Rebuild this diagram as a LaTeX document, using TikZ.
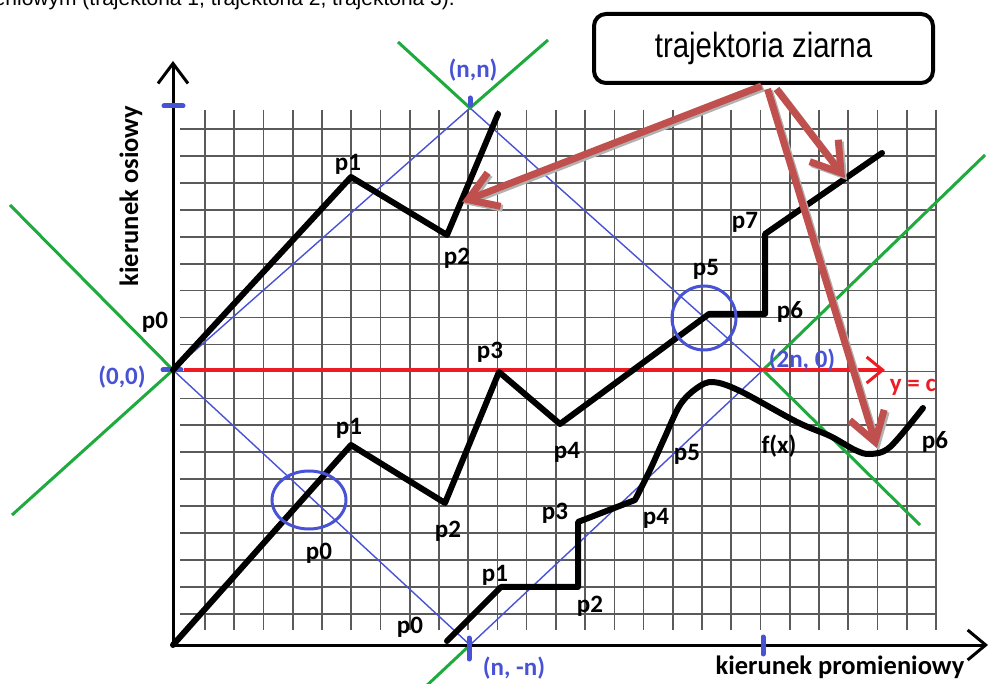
\documentclass[tikz,border=0pt]{standalone}
\usepackage{fontspec}
\usepackage{graphicx}
\setmainfont{Liberation Sans}
\newfontfamily\calib{Carlito}
\usetikzlibrary{arrows.meta,calc}
\definecolor{gridc}{RGB}{90,90,90}
\definecolor{lblue}{RGB}{72,82,212}
\definecolor{ggreen}{RGB}{30,170,60}
\definecolor{rred}{RGB}{237,28,36}
\definecolor{abrown}{RGB}{192,80,77}
\begin{document}
\begin{tikzpicture}[x=1pt,y=-1pt,
  gridline/.style={gridc, line width=1.7pt},
  traj/.style={line width=6pt, line join=round, line cap=round},
  plbl/.style={font=\calib\bfseries\fontsize{25}{25}\selectfont, inner sep=0pt},
  axlbl/.style={font=\calib\bfseries\fontsize{26.5}{26.5}\selectfont, inner sep=0pt},
  blbl/.style={font=\calib\bfseries\fontsize{25}{25}\selectfont, inner sep=0pt, text=lblue},
  diag/.style={lblue, line width=1.4pt},
  gline/.style={ggreen, line width=3pt},
  axisline/.style={line width=3pt, {Straight Barb[length=20pt,width=30pt]}-{Straight Barb[length=18pt,width=30pt]}},
  redline/.style={rred, line width=3pt, -{Straight Barb[length=16pt,width=26pt]}},
  ptr/.style={abrown, line width=7pt, -{Straight Barb[length=28pt,width=36pt]}},
  ptrshadow/.style={black!30, line width=7pt, -{Straight Barb[length=28pt,width=36pt]}, transform canvas={shift={(2pt,-2pt)}}},
  tick/.style={lblue, line width=5pt, line cap=round},
  ring/.style={lblue, line width=3pt},
  box/.style={draw, line width=4pt, rounded corners=12pt, minimum width=339pt, minimum height=69pt, fill=white, font=\fontsize{35}{35}\selectfont, inner sep=0pt}
]
\useasboundingbox (0,0) rectangle (989,684);

% caption line cut at the top
\node[font=\fontsize{21}{21}\selectfont, anchor=base east, inner sep=0pt] (cap) at (455,6) {eniowym (trajektoria 1, trajektoria 2, trajektoria 3).};

% grid
\foreach \i in {0,...,25} \draw[gridline] ({205+29.24*\i},110) -- ({205+29.24*\i},630);
\foreach \j in {0,...,18} \draw[gridline] (180,{129+26.94*\j}) -- (937,{129+26.94*\j});

% key points
\coordinate (O) at (173,370);
\coordinate (NN) at (470,108);
\coordinate (TN) at (763,370);
\coordinate (NM) at (470,645);
\coordinate (A) at (173,645);
\coordinate (ytop) at (173,61);
\coordinate (xend) at (988,645);

% blue diamond
\draw[diag] (O) -- (NN) -- (TN) -- (NM) -- cycle;

% green lines
\coordinate (g1) at (398,42);
\coordinate (g2) at (548,40);
\coordinate (g3) at (10,205);
\coordinate (g4) at (12,515);
\coordinate (g5) at (985,155);
\coordinate (g6) at (920,525);
\coordinate (g7) at (422,690);
\draw[gline] (g1) -- (NN) -- (g2);
\draw[gline] (g3) -- (O) -- (g4);
\draw[gline] (g5) -- (TN) -- (g6);
\draw[gline] (NM) -- (g7);

% red line y = c
\coordinate (rs) at (184,370);
\coordinate (re) at (885,370);
\draw[redline] (rs) -- (re);

% axes
\draw[axisline] (ytop) -- (A) -- (xend);

% blue ticks
\draw[tick] (164,106) -- (183,106);
\draw[tick] (163,370) -- (181,370);
\draw[tick] (470,98) -- (470,105);
\draw[tick] (469,638) -- (469,659);
\draw[tick] (763,637) -- (763,654);

% trajectory 1
\draw[traj] (O) -- (351,177) -- (447,235) -- (498,114);
% trajectory 2
\draw[traj] (A) -- (351,445) -- (445,503) -- (499,372) -- (560,424) -- (709,314) -- (765,314) -- (765,234) -- (882,153);
% trajectory 3
\draw[traj] (447,641) -- (501,587) -- (578,587) -- (578,522) -- (635,500)
  -- plot[smooth, tension=0.55] coordinates {(635,500) (650,470) (664,439) (680,405) (697,388) (713,382) (740,391) (797,422) (830,436) (855,450) (870,454) (890,447) (923,408)};

% rings
\draw[ring] (704,318) circle[radius=32pt];
\draw[ring] (309,500) ellipse[x radius=37pt, y radius=29pt];

% labels trajectory 1
\node[plbl] (a0) at (155,322) {p0};
\node[plbl] (a1) at (348,164) {p1};
\node[plbl] (a2) at (457,258) {p2};
% labels trajectory 2
\node[plbl] (b0) at (319,553) {p0};
\node[plbl] (b1) at (349,428) {p1};
\node[plbl] (b2) at (448,531) {p2};
\node[plbl] (b3) at (490,352) {p3};
\node[plbl] (b4) at (567,452) {p4};
\node[plbl] (b5) at (706,269) {p5};
\node[plbl] (b6) at (790,312) {p6};
\node[plbl] (b7) at (745,222) {p7};
% labels trajectory 3
\node[plbl] (c0) at (410,627) {p0};
\node[plbl] (c1) at (495,575) {p1};
\node[plbl] (c2) at (590,606) {p2};
\node[plbl] (c3) at (555,513) {p3};
\node[plbl] (c4) at (656,518) {p4};
\node[plbl] (c5) at (687,454) {p5};
\node[plbl] (cf) at (779,446) {f(x)};
\node[plbl] (c6) at (935,442) {p6};

% point labels
\node[blbl] (l00) at (122,377) {(0,0)};
\node[blbl] (lnn) at (473,70) {(n,n)};
\node[blbl] (lnm) at (514,668) {(n, -n)};
\node[blbl] (l2n) at (802,360) {(2n, 0)};
\node[blbl, text=rred] (lyc) at (913,387) {y = c};

% axis labels
\node[axlbl, rotate=90] (ylab) at (131,196) {kierunek osiowy};
\node[axlbl] (xlab) at (840,667) {kierunek promieniowy};

% callout box and pointers
\node[box] (box) at (763.5,48.5) {\scalebox{0.84}[1]{trajektoria ziarna}};
\coordinate (t1) at (462,202);
\coordinate (t2) at (877,448);
\coordinate (t3) at (845,178);
\draw[ptrshadow] ([xshift=-2pt,yshift=-1pt]box.south) -- (t1);
\draw[ptrshadow] ([xshift=4pt,yshift=-4pt]box.south) -- (t2);
\draw[ptrshadow] ([xshift=13pt,yshift=-4pt]box.south) -- (t3);
\draw[ptr] ([xshift=-2pt,yshift=-1pt]box.south) -- (t1);
\draw[ptr] ([xshift=4pt,yshift=-4pt]box.south) -- (t2);
\draw[ptr] ([xshift=13pt,yshift=-4pt]box.south) -- (t3);
\end{tikzpicture}
\end{document}
